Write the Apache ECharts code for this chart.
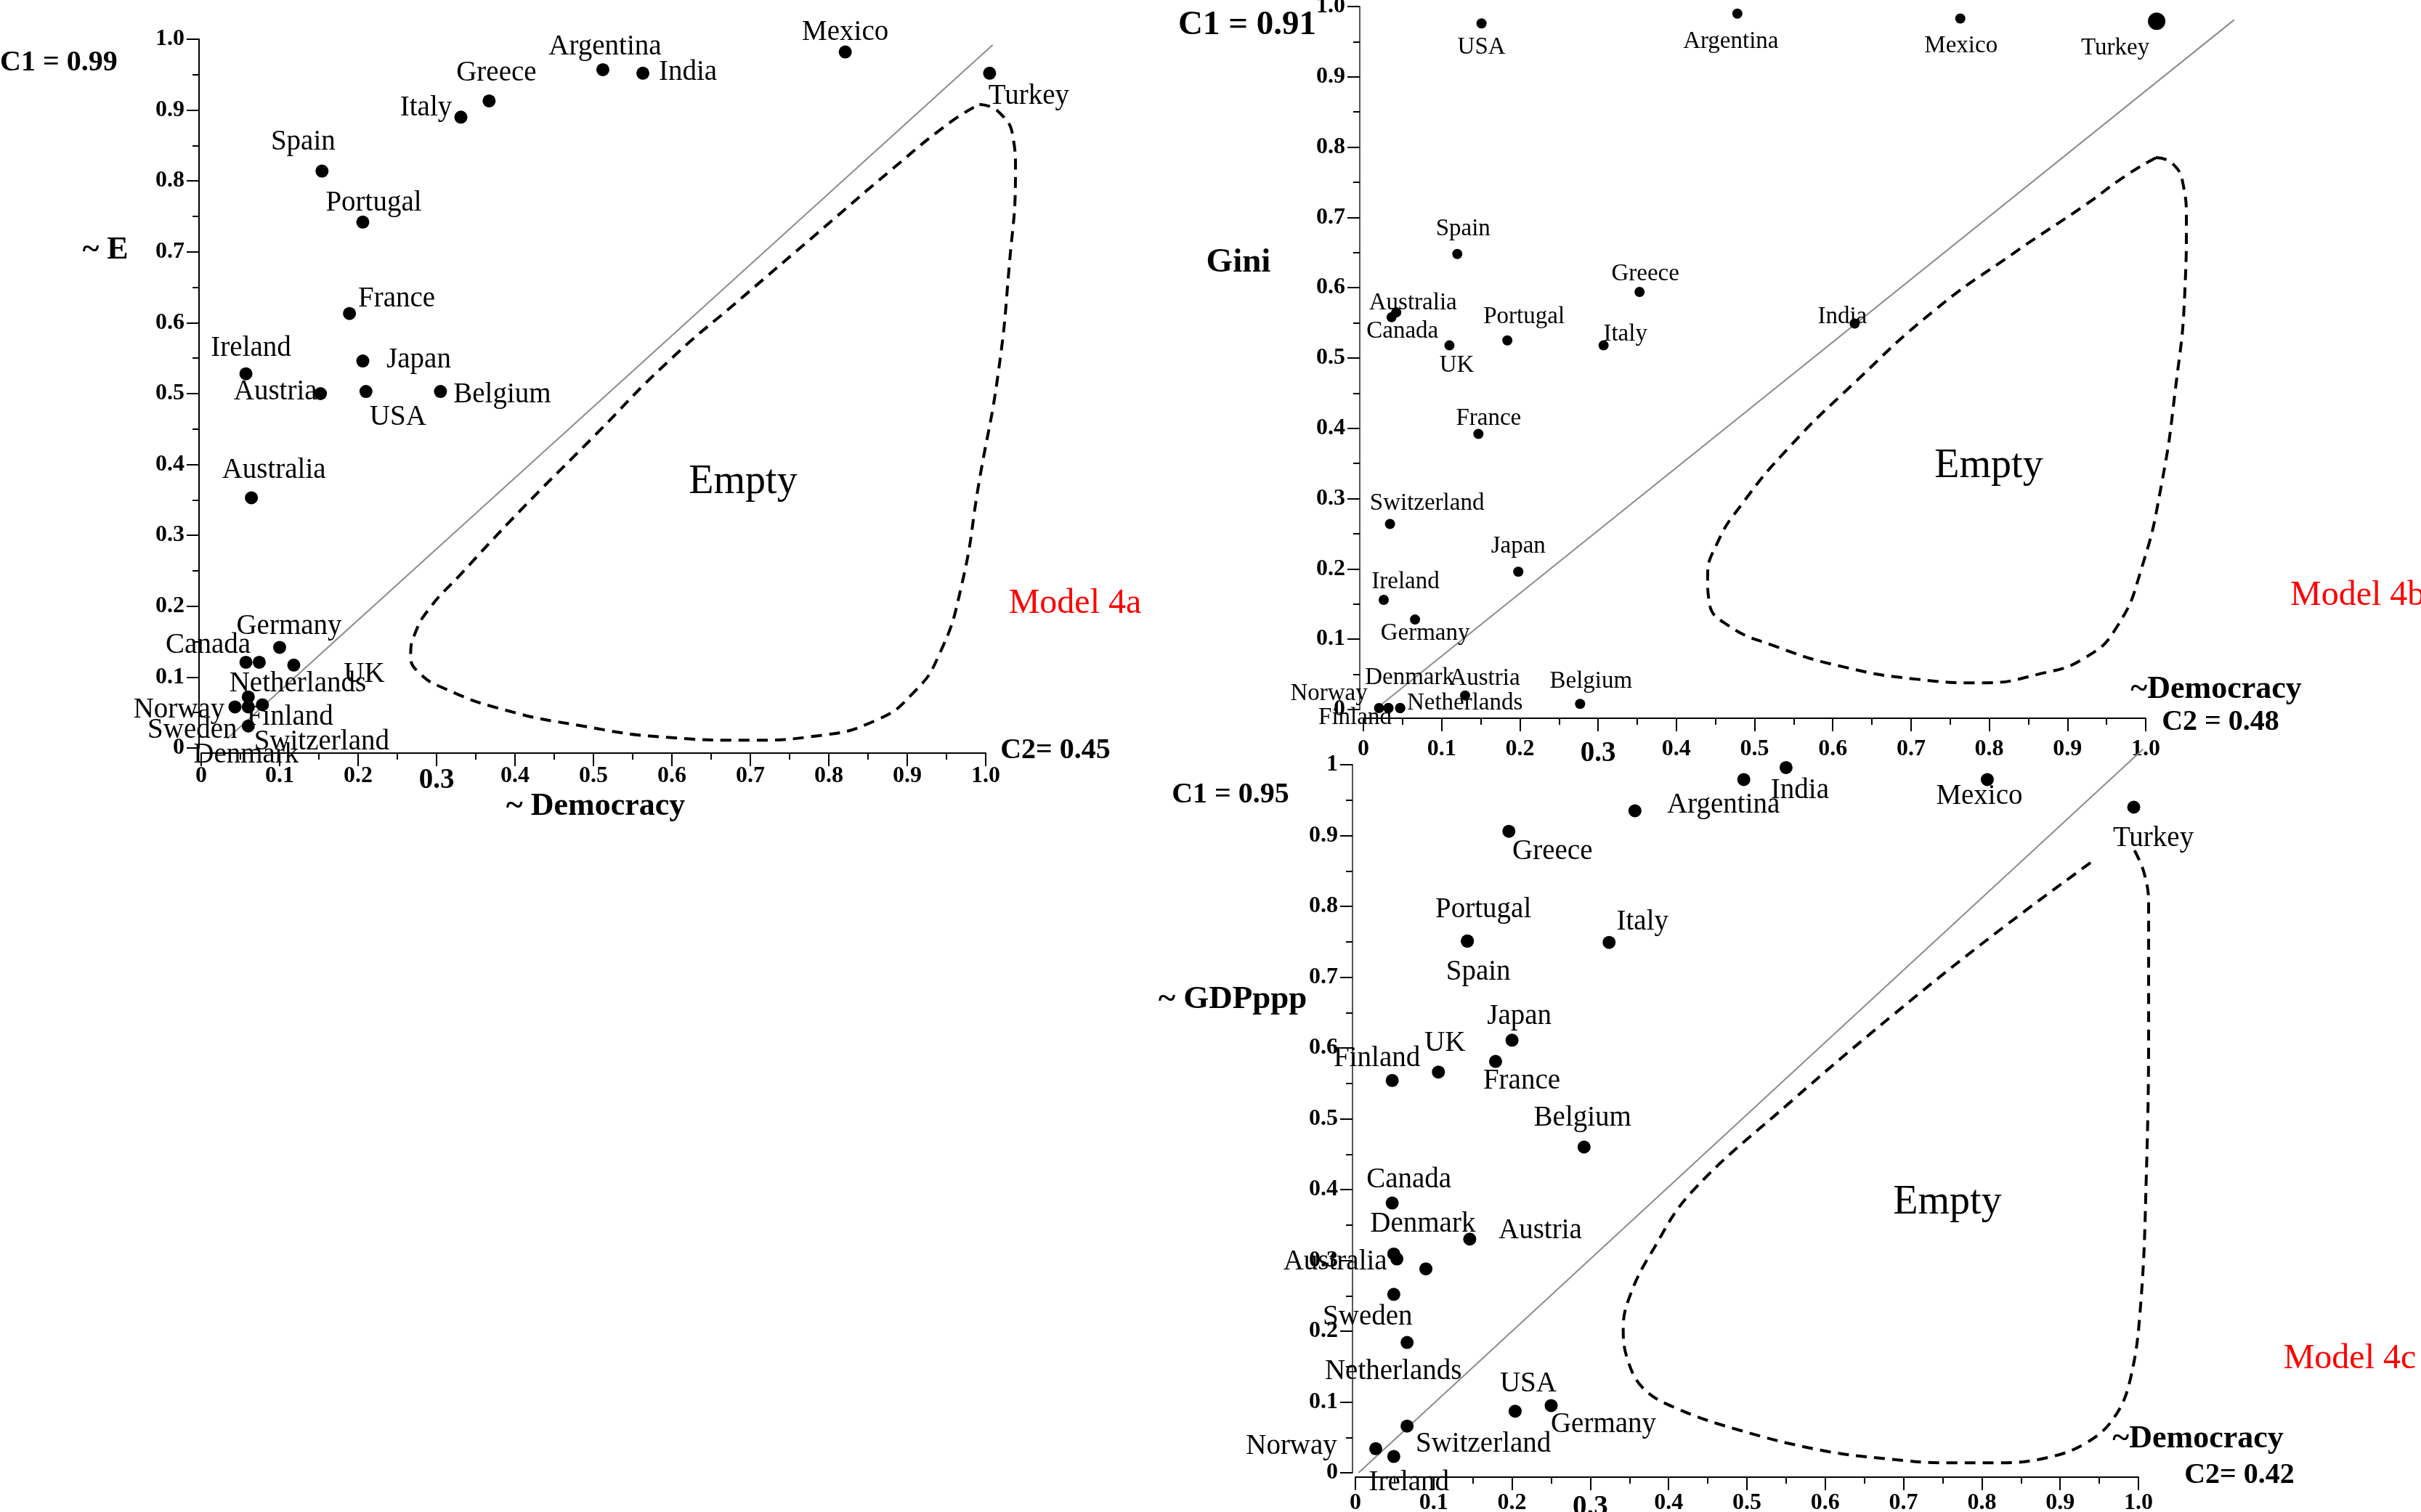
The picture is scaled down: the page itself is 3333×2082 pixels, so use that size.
<!DOCTYPE html>
<html><head><meta charset="utf-8">
<script src="https://cdn.jsdelivr.net/npm/echarts@6.0.0/dist/echarts.min.js"></script>
<style>html,body{margin:0;padding:0;background:#fff}#c{width:3333px;height:2082px}</style>
</head><body><div id="c"></div>
<script>
// ---------------- DATA ----------------
const xTickLabels = ['0','0.1','0.2','0.3','0.4','0.5','0.6','0.7','0.8','0.9','1.0'];
const yTickLabelsAB = ['0','0.1','0.2','0.3','0.4','0.5','0.6','0.7','0.8','0.9','1.0'];
const yTickLabelsC = ['0','0.1','0.2','0.3','0.4','0.5','0.6','0.7','0.8','0.9','1'];

// Model 4a : ~E vs ~Democracy
const countriesA = ['Mexico','Argentina','India','Turkey','Greece','Italy','Spain','Portugal','France','Japan','Ireland','Austria','USA','Belgium','Australia','Germany','Canada','Netherlands','UK','Norway','Sweden','Finland','Switzerland','Denmark'];
const democracyA = [0.821,0.512,0.563,1.005,0.367,0.331,0.154,0.206,0.189,0.206,0.057,0.152,0.210,0.305,0.064,0.100,0.057,0.074,0.118,0.043,0.060,0.078,0.060,0.060];
const eA         = [0.982,0.957,0.952,0.952,0.913,0.890,0.814,0.742,0.613,0.546,0.528,0.500,0.503,0.503,0.353,0.142,0.121,0.121,0.117,0.058,0.058,0.061,0.072,0.031];
const diagonalA  = [[0.033,0.013],[1.009,0.992]];
const emptyA = [[0.992,0.908],[1.016,0.898],[1.035,0.861],[1.038,0.815],[1.030,0.680],[1.016,0.529],[0.992,0.378],[0.969,0.228],[0.940,0.130],[0.907,0.077],[0.860,0.039],[0.784,0.017],[0.699,0.011],[0.594,0.015],[0.481,0.032],[0.386,0.054],[0.310,0.084],[0.277,0.107],[0.267,0.130],[0.272,0.160],[0.291,0.197],[0.329,0.243],[0.405,0.333],[0.500,0.439],[0.594,0.544],[0.689,0.635],[0.784,0.725],[0.879,0.815],[0.955,0.883],[0.992,0.908]];

// Model 4b : Gini vs ~Democracy
const countriesB = ['USA','Argentina','Mexico','Turkey','Spain','Greece','Australia','Canada','Portugal','UK','Italy','India','France','Switzerland','Japan','Ireland','Germany','Austria','Belgium','Norway','Finland','Sweden','Denmark','Netherlands'];
const democracyB = [0.151,0.478,0.763,1.014,0.120,0.353,0.042,0.036,0.184,0.110,0.307,0.628,0.147,0.034,0.198,0.026,0.066,0.130,0.277,0.020,0.032,0.032,0.047,0.047];
const giniB      = [0.976,0.990,0.983,0.979,0.648,0.594,0.565,0.558,0.525,0.518,0.518,0.549,0.392,0.264,0.196,0.156,0.128,0.020,0.008,0.002,0.002,0.002,0.002,0.002];
const diagonalB  = [[0.015,0.0],[1.113,0.981]];
const emptyB = [[1.013,0.785],[1.034,0.777],[1.048,0.746],[1.052,0.697],[1.050,0.594],[1.038,0.456],[1.020,0.319],[0.995,0.202],[0.964,0.119],[0.923,0.074],[0.862,0.050],[0.790,0.038],[0.708,0.043],[0.616,0.060],[0.524,0.091],[0.463,0.122],[0.442,0.153],[0.440,0.188],[0.452,0.236],[0.483,0.291],[0.545,0.374],[0.626,0.463],[0.729,0.567],[0.831,0.649],[0.923,0.718],[0.974,0.759],[1.013,0.785]];

// Model 4c : ~GDPppp vs ~Democracy ('' = unlabelled case)
const countriesC = ['India','Argentina','Mexico','Turkey','','Greece','Portugal','Spain','Italy','Japan','France','UK','Finland','Belgium','Canada','Austria','Denmark','Australia','','Sweden','Netherlands','USA','Germany','Switzerland','Norway','Ireland'];
const democracyC = [0.550,0.496,0.807,0.994,0.357,0.196,0.143,0.143,0.324,0.200,0.179,0.106,0.047,0.292,0.047,0.146,0.049,0.053,0.090,0.049,0.066,0.204,0.250,0.066,0.026,0.049];
const gdpC       = [0.996,0.979,0.979,0.940,0.935,0.906,0.751,0.751,0.749,0.611,0.581,0.566,0.554,0.460,0.381,0.330,0.309,0.302,0.288,0.252,0.184,0.087,0.095,0.066,0.034,0.023];
const diagonalC  = [[0.004,0.0],[1.006,1.022]];
const emptyC = [[0.995,0.879],[1.007,0.848],[1.013,0.805],[1.013,0.628],[1.010,0.417],[1.003,0.240],[0.990,0.134],[0.969,0.078],[0.933,0.042],[0.882,0.021],[0.820,0.014],[0.758,0.014],[0.676,0.020],[0.594,0.032],[0.491,0.060],[0.408,0.092],[0.367,0.120],[0.347,0.162],[0.342,0.205],[0.352,0.254],[0.378,0.311],[0.429,0.396],[0.557,0.525],[0.686,0.646],[0.814,0.759],[0.943,0.865]];

// ---------------- LAYOUT (label offsets in px, per point, same order) ----------------
const labelOffsetA = [[0,-27],[3,-31],[62,-1],[54,32],[10,-38],[-48,-13],[-26,-40],[15,-26],[65,-20],[77,-1],[7,-35],[-62,-2],[44,36],[85,5],[31,-38],[13,-29],[-52,-23],[53,30],[97,13],[-77,4],[-77,32],[38,17],[101,62],[-3,40]];
const labelOffsetB = [[0,33],[-9,39],[1,38],[-57,37],[8,-34],[8,-25],[23,-13],[15,19],[23,-32],[10,28],[30,-15],[-17,-9],[14,-21],[51,-28],[0,-35],[30,-25],[14,19],[27,-23],[15,-31],[-69,-20],[-46,13],null,[13,-42],[89,-7]];
const labelOffsetC = [[19,32],[-28,35],[-11,23],[27,43],null,[60,28],[22,-43],[15,43],[46,-28],[10,-33],[36,27],[9,-39],[-21,-30],[-2,-40],[23,-32],[97,-12],[40,-41],[-85,4],null,[-36,31],[-19,40],[18,-37],[72,26],[105,25],[-116,-3],[21,36]];

const SERIF = '"Liberation Serif","Times New Roman",serif';
// main plotting boxes (pixel box of data range 0..1)
const boxes = [
  {left:277, top:54, width:1080, height:976},
  {left:1877, top:9, width:1077, height:968},
  {left:1866, top:1053, width:1078, height:975}
];
const EXT = 1.2; // overlay grids span 0..1.2 with the same scale, for annotation lines
const grids = boxes.map(b=>({left:b.left, top:b.top, width:b.width, height:b.height, outerBoundsMode:'none'}))
  .concat(boxes.map(b=>({left:b.left, top:b.top-(EXT-1)*b.height, width:b.width*EXT, height:b.height*EXT, outerBoundsMode:'none'})));

const tickRich = {
  n:{fontFamily:SERIF, fontWeight:'bold', fontSize:32, color:'#000'},
  big:{fontFamily:SERIF, fontWeight:'bold', fontSize:39, color:'#000', padding:[2,0,0,0]}
};
function xAx(i, off, margin){
  return {gridIndex:i, type:'value', min:0, max:1, interval:0.1, offset:off,
    axisLine:{show:true, onZero:false, lineStyle:{color:'#000', width:2}},
    axisTick:{show:true, length:18, lineStyle:{color:'#000', width:2}},
    minorTick:{show:true, splitNumber:2, length:9, lineStyle:{color:'#000', width:2}},
    splitLine:{show:false}, minorSplitLine:{show:false},
    axisLabel:{margin:margin, showMinLabel:true, showMaxLabel:true, rich:tickRich,
      formatter:v=>{const k=Math.round(v*10); return (k===3?'{big|':'{n|')+xTickLabels[k]+'}';}}};
}
function yAx(i, off, labels, lineColor){
  return {gridIndex:i, type:'value', min:0, max:1, interval:0.1, offset:off,
    axisLine:{show:true, onZero:false, lineStyle:{color:lineColor, width:2}},
    axisTick:{show:true, length:17, lineStyle:{color:'#000', width:2}},
    minorTick:{show:true, splitNumber:2, length:9, lineStyle:{color:'#000', width:2}},
    splitLine:{show:false}, minorSplitLine:{show:false},
    axisLabel:{margin:20, fontFamily:SERIF, fontWeight:'bold', fontSize:32, color:'#000',
      showMinLabel:true, showMaxLabel:true, formatter:v=>labels[Math.round(v*10)]}};
}
function hiddenAx(i){
  return {gridIndex:i, type:'value', min:0, max:EXT, show:false, splitLine:{show:false}};
}
function scatter(i, names, xs, ys, offs, size, fontSize, bigNames){
  return {type:'scatter', xAxisIndex:i, yAxisIndex:i, clip:false, z:5, silent:true,
    symbol:'circle',
    data:names.map((n,k)=>({name:n, value:[xs[k], ys[k]],
      symbolSize:(bigNames && bigNames.indexOf(n)>=0)?24:size,
      label:{show:!!(n && offs[k])}})),
    itemStyle:{color:'#000', opacity:1},
    label:{show:true, position:'inside', formatter:p=>p.name, fontFamily:SERIF, fontSize:fontSize, color:'#000'},
    labelLayout:function(p){ const o = offs[p.dataIndex]; return o ? {dx:o[0], dy:o[1], hideOverlap:false} : {hideOverlap:false}; }};
}
function lineS(i, pts, style, smooth){
  return {type:'line', xAxisIndex:i, yAxisIndex:i, data:pts, symbol:'none', clip:false,
    smooth:smooth, silent:true, z:2, lineStyle:style};
}
const dashed = {color:'#000', width:4, type:[15,10]};
const thin = {color:'#8c8c8c', width:2};

function txt(t, x, y, size, opts){
  opts = opts || {};
  return {type:'text', x:x, y:y, silent:true, z:10, style:{text:t,
    font:(opts.bold?'bold ':'')+size+'px '+SERIF, fill:opts.color||'#000',
    textAlign:opts.align||'center', textVerticalAlign:'middle', align:opts.align||'center', verticalAlign:'middle'}};
}

const option = {
  backgroundColor:'#fff', animation:false,
  grid:grids,
  xAxis:[xAx(0,7,16), xAx(1,12,27), xAx(2,6,20), hiddenAx(3), hiddenAx(4), hiddenAx(5)],
  yAxis:[yAx(0,3,yTickLabelsAB,'#000'), yAx(1,5,yTickLabelsAB,'#555'), yAx(2,4,yTickLabelsC,'#555'), hiddenAx(3), hiddenAx(4), hiddenAx(5)],
  series:[
    lineS(3, diagonalA, thin, false),
    lineS(3, emptyA, dashed, 0.5),
    scatter(0, countriesA, democracyA, eA, labelOffsetA, 18, 39),
    lineS(4, diagonalB, thin, false),
    lineS(4, emptyB, dashed, 0.5),
    scatter(1, countriesB, democracyB, giniB, labelOffsetB, 14, 33, ['Turkey']),
    lineS(5, diagonalC, thin, false),
    lineS(5, emptyC, dashed, 0.4),
    scatter(2, countriesC, democracyC, gdpC, labelOffsetC, 18, 39)
  ],
  graphic:[
    txt('C1 = 0.99', 0, 87, 40, {bold:true, align:'left'}),
    txt('~ E', 145, 345, 44, {bold:true}),
    txt('~ Democracy', 820, 1111, 44, {bold:true}),
    txt('C2= 0.45', 1453, 1034, 40, {bold:true}),
    txt('Model 4a', 1480, 831, 48, {color:'#ff0000'}),
    txt('Empty', 1023, 664, 56),

    txt('C1 = 0.91', 1717, 35, 47, {bold:true}),
    txt('Gini', 1705, 362, 47, {bold:true}),
    txt('Empty', 2738, 642, 56),
    txt('Model 4b', 3153, 820, 48, {color:'#ff0000', align:'left'}),
    txt('~Democracy', 3051, 950, 44, {bold:true}),
    txt('C2 = 0.48', 3057, 995, 40, {bold:true}),

    txt('C1 = 0.95', 1694, 1095, 40, {bold:true}),
    txt('~ GDPppp', 1697, 1376, 45, {bold:true}),
    txt('Empty', 2681, 1656, 56),
    txt('Model 4c', 3235, 1871, 48, {color:'#ff0000'}),
    txt('~Democracy', 3026, 1982, 44, {bold:true}),
    txt('C2= 0.42', 3083, 2032, 40, {bold:true})
  ]
};
const chart = echarts.init(document.getElementById('c'), null, {renderer:'canvas', width:3333, height:2082});
chart.setOption(option);
</script>
</body></html>
